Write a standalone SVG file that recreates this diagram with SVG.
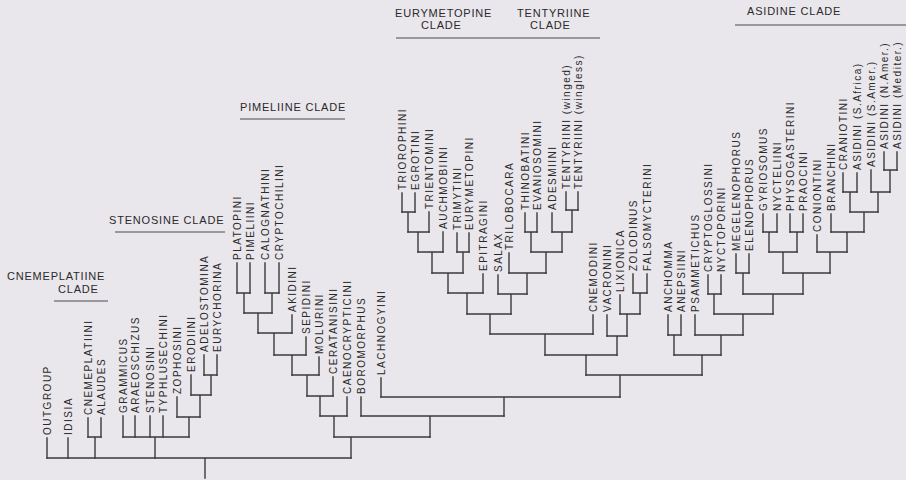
<svg xmlns="http://www.w3.org/2000/svg" width="906" height="480" viewBox="0 0 906 480">
<style>
.bg{fill:#e9e6ec}
.cn path{fill:none;stroke:#3a3a3a;stroke-width:1.4;stroke-linecap:square}
.ul{fill:none;stroke:#4a4a4a;stroke-width:1.1}
.lf{font-family:"Liberation Sans",Arial,sans-serif;font-size:10px;letter-spacing:1.5px;fill:#2a2a2a}
.cl{font-family:"Liberation Sans",Arial,sans-serif;font-size:11px;letter-spacing:0.8px;fill:#2a2a2a}
</style>
<rect class="bg" x="0" y="0" width="906" height="480"/>
<g id="connectors" class="cn">
<path d="M47 458H351M205 458V478"/>
<path d="M88 437H101M95 437V458"/>
<path d="M123 437H189M155 437V458"/>
<path d="M177 417H200M189 417V437"/>
<path d="M191 395H211M200 395V417"/>
<path d="M204 375H217M211 375V395"/>
<path d="M334 437H430M351 437V458"/>
<path d="M320 416H347M334 416V437"/>
<path d="M307 396H333M320 396V416"/>
<path d="M292 375H319M307 375V396"/>
<path d="M274 355H306M292 355V375"/>
<path d="M258 333H292M274 333V355"/>
<path d="M244 313H272M258 313V333"/>
<path d="M237 293H250M244 293V313"/>
<path d="M265 293H279M272 293V313"/>
<path d="M361 416H504M430 416V437"/>
<path d="M381 397H620M504 397V416"/>
<path d="M586 375H702M620 375V397"/>
<path d="M545 355H617M586 355V375"/>
<path d="M490 334H593M545 334V355"/>
<path d="M467 314H511M490 314V334"/>
<path d="M448 293H483M467 293V314"/>
<path d="M432 273H463M448 273V293"/>
<path d="M418 252H443M432 252V273"/>
<path d="M408 232H429M418 232V252"/>
<path d="M402 212H415M408 212V232"/>
<path d="M457 252H469M463 252V273"/>
<path d="M498 294H527M511 294V314"/>
<path d="M509 273H546M527 273V294"/>
<path d="M531 252H562M546 252V273"/>
<path d="M525 232H537M531 232V252"/>
<path d="M552 232H572M562 232V252"/>
<path d="M566 210H578M572 210V232"/>
<path d="M607 336H627M617 336V355"/>
<path d="M620 314H640M627 314V336"/>
<path d="M633 293H647M640 293V314"/>
<path d="M674 355H721M702 355V375"/>
<path d="M668 335H681M674 335V355"/>
<path d="M695 335H743M721 335V355"/>
<path d="M714 314H773M743 314V335"/>
<path d="M708 294H721M714 294V314"/>
<path d="M743 294H803M773 294V314"/>
<path d="M736 273H749M743 273V294"/>
<path d="M783 273H830M803 273V294"/>
<path d="M769 252H797M783 252V273"/>
<path d="M763 232H777M769 232V252"/>
<path d="M790 232H803M797 232V252"/>
<path d="M817 252H847M830 252V273"/>
<path d="M831 232H864M847 232V252"/>
<path d="M850 212H878M864 212V232"/>
<path d="M843 192H857M850 192V212"/>
<path d="M871 192H890M878 192V212"/>
<path d="M884 170H897M890 170V192"/>
<path d="M47 438V458M68 438V458M88 418V437M101 418V437M123 416V437M135 416V437M150 416V437M163 416V437M177 397V417M191 375V395M204 355V375M217 355V375"/>
<path d="M237 263V293M250 263V293M265 263V293M279 263V293M292 315V333M306 337V355M319 357V375M333 377V396M347 397V416M361 397V416M381 378V397"/>
<path d="M402 193V212M415 193V212M429 212V232M443 232V252M457 233V252M469 233V252M483 274V293M498 275V294M509 253V273M525 213V232M537 213V232M552 213V232M566 192V210M578 192V210"/>
<path d="M593 315V334M607 315V336M620 295V314M633 274V293M647 274V293M668 315V335M681 315V335M695 315V335M708 275V294M721 275V294M736 254V273M749 254V273"/>
<path d="M763 214V232M777 214V232M790 214V232M803 214V232M817 235V252M831 214V232M843 173V192M857 173V192M871 170V192M884 152V170M897 152V170"/>
</g>
<g id="clade-labels">
<g id="cnemeplatiine-clade"><text class="cl" x="7" y="280">CNEMEPLATIINE</text><text class="cl" x="58" y="293">CLADE</text><path class="ul" d="M54 301H108"/></g>
<g id="stenosine-clade"><text class="cl" x="109" y="224">STENOSINE CLADE</text><path class="ul" d="M115 232H225"/></g>
<g id="pimeliine-clade"><text class="cl" x="240" y="111">PIMELIINE CLADE</text><path class="ul" d="M240 119H345"/></g>
<g id="eurymetopine-clade"><text class="cl" x="395" y="17">EURYMETOPINE</text><text class="cl" x="421" y="29">CLADE</text></g>
<g id="tentyriine-clade"><text class="cl" x="517" y="17">TENTYRIINE</text><text class="cl" x="530" y="29">CLADE</text></g>
<path class="ul" d="M396 38H600"/>
<g id="asidine-clade"><text class="cl" x="747" y="15">ASIDINE CLADE</text><path class="ul" d="M735 25H906"/></g>
</g>
<g id="taxa" class="lf">
<g id="n-outgroup"><text transform="translate(50.6,435) rotate(-90)">OUTGROUP</text></g>
<g id="n-idisia"><text transform="translate(71.6,435) rotate(-90)">IDISIA</text></g>
<g id="n-cnemeplatiini"><text transform="translate(91.6,415) rotate(-90)">CNEMEPLATIINI</text></g>
<g id="n-alaudes"><text transform="translate(104.6,415) rotate(-90)">ALAUDES</text></g>
<g id="n-grammicus"><text transform="translate(126.6,413) rotate(-90)">GRAMMICUS</text></g>
<g id="n-araeoschizus"><text transform="translate(138.6,413) rotate(-90)">ARAEOSCHIZUS</text></g>
<g id="n-stenosini"><text transform="translate(153.6,413) rotate(-90)">STENOSINI</text></g>
<g id="n-typhlusechini"><text transform="translate(166.6,413) rotate(-90)">TYPHLUSECHINI</text></g>
<g id="n-zophosini"><text transform="translate(180.6,394) rotate(-90)">ZOPHOSINI</text></g>
<g id="n-erodiini"><text transform="translate(194.6,372) rotate(-90)">ERODIINI</text></g>
<g id="n-adelostomina"><text transform="translate(207.6,352) rotate(-90)">ADELOSTOMINA</text></g>
<g id="n-eurychorina"><text transform="translate(220.6,352) rotate(-90)">EURYCHORINA</text></g>
<g id="n-platopini"><text transform="translate(240.6,260) rotate(-90)">PLATOPINI</text></g>
<g id="n-pimeliini"><text transform="translate(253.6,260) rotate(-90)">PIMELIINI</text></g>
<g id="n-calognathini"><text transform="translate(268.6,260) rotate(-90)">CALOGNATHINI</text></g>
<g id="n-cryptochilini"><text transform="translate(282.6,260) rotate(-90)">CRYPTOCHILINI</text></g>
<g id="n-akidini"><text transform="translate(295.6,312) rotate(-90)">AKIDINI</text></g>
<g id="n-sepidini"><text transform="translate(309.6,334) rotate(-90)">SEPIDINI</text></g>
<g id="n-molurini"><text transform="translate(322.6,354) rotate(-90)">MOLURINI</text></g>
<g id="n-ceratanisini"><text transform="translate(336.6,374) rotate(-90)">CERATANISINI</text></g>
<g id="n-caenocrypticini"><text transform="translate(350.6,394) rotate(-90)">CAENOCRYPTICINI</text></g>
<g id="n-boromorphus"><text transform="translate(364.6,394) rotate(-90)">BOROMORPHUS</text></g>
<g id="n-lachnogyini"><text transform="translate(384.6,375) rotate(-90)">LACHNOGYINI</text></g>
<g id="n-triorophini"><text transform="translate(405.6,190) rotate(-90)">TRIOROPHINI</text></g>
<g id="n-egrotini"><text transform="translate(418.6,190) rotate(-90)">EGROTINI</text></g>
<g id="n-trientomini"><text transform="translate(432.6,209) rotate(-90)">TRIENTOMINI</text></g>
<g id="n-auchmobiini"><text transform="translate(446.6,229) rotate(-90)">AUCHMOBIINI</text></g>
<g id="n-trimytini"><text transform="translate(460.6,230) rotate(-90)">TRIMYTINI</text></g>
<g id="n-eurymetopini"><text transform="translate(472.6,230) rotate(-90)">EURYMETOPINI</text></g>
<g id="n-epitragini"><text transform="translate(486.6,271) rotate(-90)">EPITRAGINI</text></g>
<g id="n-salax"><text transform="translate(501.6,272) rotate(-90)">SALAX</text></g>
<g id="n-trilobocara"><text transform="translate(512.6,250) rotate(-90)">TRILOBOCARA</text></g>
<g id="n-thinobatini"><text transform="translate(528.6,210) rotate(-90)">THINOBATINI</text></g>
<g id="n-evaniosomini"><text transform="translate(540.6,210) rotate(-90)">EVANIOSOMINI</text></g>
<g id="n-adesmiini"><text transform="translate(555.6,210) rotate(-90)">ADESMIINI</text></g>
<g id="n-tentyriini-winged"><text transform="translate(569.6,189) rotate(-90)">TENTYRIINI (winged)</text></g>
<g id="n-tentyriini-wingless"><text transform="translate(581.6,189) rotate(-90)">TENTYRIINI (wingless)</text></g>
<g id="n-cnemodini"><text transform="translate(596.6,312) rotate(-90)">CNEMODINI</text></g>
<g id="n-vacronini"><text transform="translate(610.6,312) rotate(-90)">VACRONINI</text></g>
<g id="n-lixionica"><text transform="translate(623.6,292) rotate(-90)">LIXIONICA</text></g>
<g id="n-zolodinus"><text transform="translate(636.6,271) rotate(-90)">ZOLODINUS</text></g>
<g id="n-falsomycterini"><text transform="translate(650.6,271) rotate(-90)">FALSOMYCTERINI</text></g>
<g id="n-anchomma"><text transform="translate(671.6,312) rotate(-90)">ANCHOMMA</text></g>
<g id="n-anepsiini"><text transform="translate(684.6,312) rotate(-90)">ANEPSIINI</text></g>
<g id="n-psammetichus"><text transform="translate(698.6,312) rotate(-90)">PSAMMETICHUS</text></g>
<g id="n-cryptoglossini"><text transform="translate(711.6,272) rotate(-90)">CRYPTOGLOSSINI</text></g>
<g id="n-nyctoporini"><text transform="translate(724.6,272) rotate(-90)">NYCTOPORINI</text></g>
<g id="n-megelenophorus"><text transform="translate(739.6,251) rotate(-90)">MEGELENOPHORUS</text></g>
<g id="n-elenophorus"><text transform="translate(752.6,251) rotate(-90)">ELENOPHORUS</text></g>
<g id="n-gyriosomus"><text transform="translate(766.6,211) rotate(-90)">GYRIOSOMUS</text></g>
<g id="n-nycteliini"><text transform="translate(780.6,211) rotate(-90)">NYCTELIINI</text></g>
<g id="n-physogasterini"><text transform="translate(793.6,211) rotate(-90)">PHYSOGASTERINI</text></g>
<g id="n-praocini"><text transform="translate(806.6,211) rotate(-90)">PRAOCINI</text></g>
<g id="n-coniontini"><text transform="translate(820.6,232) rotate(-90)">CONIONTINI</text></g>
<g id="n-branchini"><text transform="translate(834.6,211) rotate(-90)">BRANCHINI</text></g>
<g id="n-craniotini"><text transform="translate(846.6,170) rotate(-90)">CRANIOTINI</text></g>
<g id="n-asidini-safrica"><text transform="translate(860.6,170) rotate(-90)">ASIDINI (S.Africa)</text></g>
<g id="n-asidini-samer"><text transform="translate(874.6,167) rotate(-90)">ASIDINI (S.Amer.)</text></g>
<g id="n-asidini-namer"><text transform="translate(887.6,149) rotate(-90)">ASIDINI (N.Amer.)</text></g>
<g id="n-asidini-mediter"><text transform="translate(900.6,149) rotate(-90)">ASIDINI (Mediter.)</text></g>
</g>
</svg>
